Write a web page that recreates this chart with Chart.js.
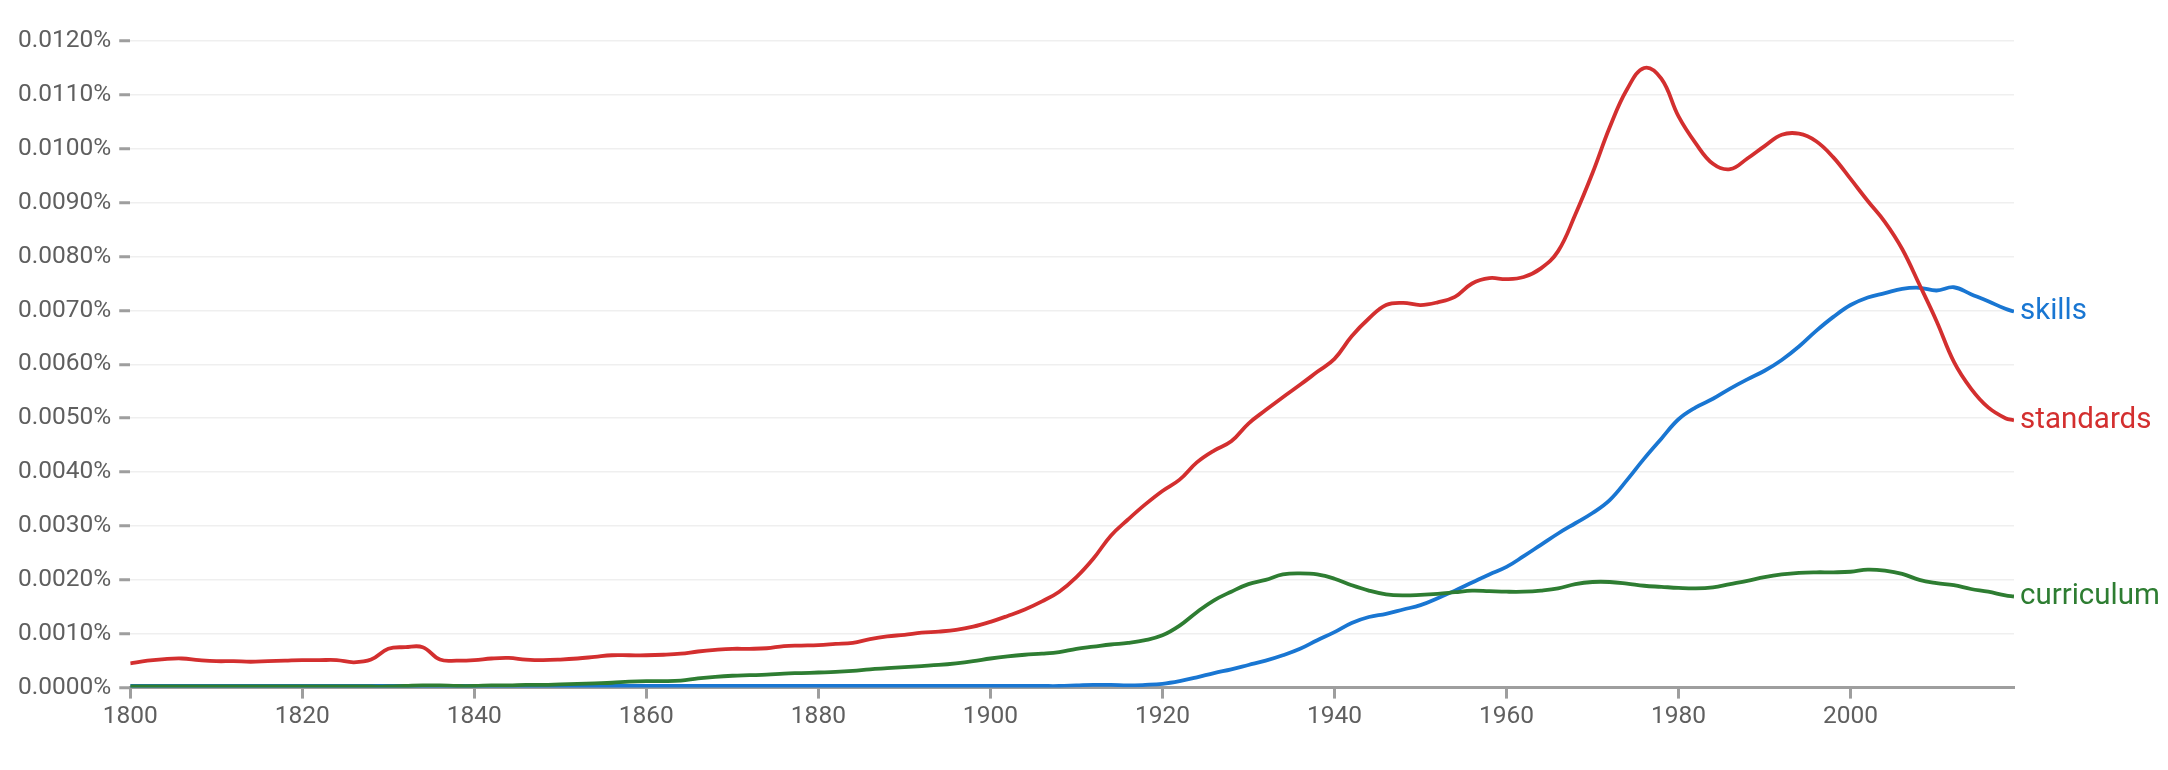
<!DOCTYPE html>
<html lang="en">
<head>
    <meta charset="UTF-8">
    <title>Ngram | skills, standards, curriculum</title>
    <script src="https://cdn.jsdelivr.net/npm/chart.js"></script>
    <style>
        body { margin: 0; background: #fff; }
        .chart-box { width: 2168px; height: 770px; }
    </style>
</head>
<body>
    <div class="chart-box">
        <canvas id="ngram"></canvas>
    </div>

    <script>
        // years sampled every 2 years, plus the last one
        const years = [];
        for (let y = 1800; y <= 2018; y += 2) years.push(y);
        years.push(2019);

        // values in thousandths of a percent (1 = 0.0010%)
        const standards = [
            0.45, 0.50, 0.53, 0.54, 0.51, 0.49, 0.49, 0.48, 0.49, 0.50,
            0.51, 0.51, 0.51, 0.47, 0.52, 0.72, 0.75, 0.75, 0.52, 0.50,
            0.51, 0.54, 0.55, 0.52, 0.51, 0.52, 0.54, 0.57, 0.60, 0.60,
            0.60, 0.61, 0.63, 0.67, 0.70, 0.72, 0.72, 0.73, 0.77, 0.78,
            0.79, 0.81, 0.83, 0.90, 0.95, 0.98, 1.02, 1.04, 1.07, 1.13,
            1.22, 1.33, 1.45, 1.60, 1.78, 2.05, 2.40, 2.82, 3.12, 3.40,
            3.65, 3.86, 4.18, 4.40, 4.57, 4.90, 5.15, 5.39, 5.62, 5.86,
            6.10, 6.52, 6.85, 7.10, 7.14, 7.10, 7.15, 7.25, 7.50, 7.60,
            7.58, 7.62, 7.78, 8.10, 8.78, 9.55, 10.40, 11.10, 11.50, 11.30,
            10.60, 10.10, 9.72, 9.62, 9.82, 10.05, 10.26, 10.28, 10.14, 9.84,
            9.44, 9.03, 8.64, 8.14, 7.48, 6.80, 6.05, 5.55, 5.20, 5.00,
            4.96
        ];
        const skills = [
            0.03, 0.03, 0.03, 0.03, 0.03, 0.03, 0.03, 0.03, 0.03, 0.03,
            0.03, 0.03, 0.03, 0.03, 0.03, 0.03, 0.03, 0.03, 0.03, 0.03,
            0.03, 0.03, 0.03, 0.03, 0.03, 0.03, 0.03, 0.03, 0.03, 0.03,
            0.03, 0.03, 0.03, 0.03, 0.03, 0.03, 0.03, 0.03, 0.03, 0.03,
            0.03, 0.03, 0.03, 0.03, 0.03, 0.03, 0.03, 0.03, 0.03, 0.03,
            0.03, 0.03, 0.03, 0.03, 0.03, 0.04, 0.05, 0.05, 0.04, 0.05,
            0.07, 0.12, 0.19, 0.27, 0.34, 0.42, 0.50, 0.60, 0.72, 0.88,
            1.03, 1.20, 1.31, 1.37, 1.45, 1.53, 1.66, 1.80, 1.95, 2.10,
            2.24, 2.44, 2.65, 2.86, 3.05, 3.24, 3.48, 3.85, 4.25, 4.62,
            4.98, 5.20, 5.36, 5.55, 5.72, 5.88, 6.08, 6.33, 6.62, 6.88,
            7.10, 7.24, 7.32, 7.40, 7.42, 7.37, 7.43, 7.30, 7.17, 7.03,
            6.98
        ];
        const curriculum = [
            0.02, 0.02, 0.02, 0.02, 0.02, 0.02, 0.02, 0.02, 0.02, 0.02,
            0.02, 0.02, 0.02, 0.02, 0.02, 0.02, 0.03, 0.04, 0.04, 0.03,
            0.03, 0.04, 0.04, 0.05, 0.05, 0.06, 0.07, 0.08, 0.09, 0.11,
            0.12, 0.12, 0.13, 0.17, 0.20, 0.22, 0.23, 0.24, 0.26, 0.27,
            0.28, 0.29, 0.31, 0.34, 0.36, 0.38, 0.40, 0.42, 0.45, 0.49,
            0.54, 0.58, 0.61, 0.63, 0.66, 0.72, 0.76, 0.80, 0.83, 0.88,
            0.97, 1.15, 1.40, 1.62, 1.78, 1.92, 2.00, 2.10, 2.12, 2.10,
            2.02, 1.90, 1.80, 1.73, 1.71, 1.72, 1.74, 1.77, 1.80, 1.79,
            1.78, 1.78, 1.80, 1.84, 1.92, 1.96, 1.96, 1.93, 1.89, 1.87,
            1.85, 1.84, 1.86, 1.92, 1.98, 2.05, 2.10, 2.13, 2.14, 2.14,
            2.15, 2.19, 2.17, 2.11, 2.00, 1.94, 1.90, 1.83, 1.78, 1.71,
            1.69
        ];

        const xTicks = [1800, 1820, 1840, 1860, 1880, 1900, 1920, 1940, 1960, 1980, 2000];

        const toPoints = vals => years.map((yr, i) => ({ x: yr, y: vals[i] }));

        // word label at the end of each line
        const endLabels = {
            id: 'endLabels',
            afterDatasetsDraw(chart) {
                const ctx = chart.ctx;
                ctx.save();
                ctx.font = '29.5px Roboto';
                ctx.textBaseline = 'middle';
                ctx.textAlign = 'left';
                chart.data.datasets.forEach((ds, i) => {
                    const pts = chart.getDatasetMeta(i).data;
                    const last = pts[pts.length - 1];
                    ctx.fillStyle = ds.borderColor;
                    ctx.fillText(ds.label, last.x + 6, last.y);
                });
                ctx.restore();
            }
        };

        new Chart(document.querySelector('#ngram'), {
            type: 'line',
            data: {
                datasets: [
                    { label: 'standards', data: toPoints(standards), borderColor: '#d32f2f', order: 0 },
                    { label: 'curriculum', data: toPoints(curriculum), borderColor: '#2e7d32', order: 1 },
                    { label: 'skills', data: toPoints(skills), borderColor: '#1976d2', order: 2 }
                ]
            },
            options: {
                responsive: true,
                maintainAspectRatio: false,
                animation: false,
                layout: { padding: { top: 41, right: 154, bottom: 34, left: 10 } },
                elements: {
                    line: { borderWidth: 3.8, tension: 0.4 },
                    point: { radius: 0 }
                },
                plugins: {
                    legend: { display: false },
                    tooltip: { enabled: false }
                },
                scales: {
                    x: {
                        type: 'linear',
                        min: 1800,
                        max: 2019,
                        afterBuildTicks: axis => { axis.ticks = xTicks.map(v => ({ value: v })); },
                        ticks: {
                            callback: v => String(v),
                            color: '#5f5f5f',
                            font: { family: 'Roboto', size: 24.5 },
                            padding: 4,
                            maxRotation: 0
                        },
                        grid: {
                            drawOnChartArea: false,
                            drawTicks: true,
                            tickLength: 11,
                            tickColor: '#9e9e9e',
                            tickWidth: 3
                        },
                        border: { display: true, color: '#9e9e9e', width: 3 }
                    },
                    y: {
                        min: 0,
                        max: 12,
                        ticks: {
                            stepSize: 1,
                            callback: v => (v / 1000).toFixed(4) + '%',
                            color: '#5f5f5f',
                            font: { family: 'Roboto', size: 24.5 },
                            padding: 8
                        },
                        grid: {
                            color: '#efefef',
                            lineWidth: 1.5,
                            tickLength: 11,
                            tickColor: '#9e9e9e',
                            tickWidth: 3
                        },
                        border: { display: false }
                    }
                }
            },
            plugins: [endLabels]
        });
    </script>
</body>
</html>
